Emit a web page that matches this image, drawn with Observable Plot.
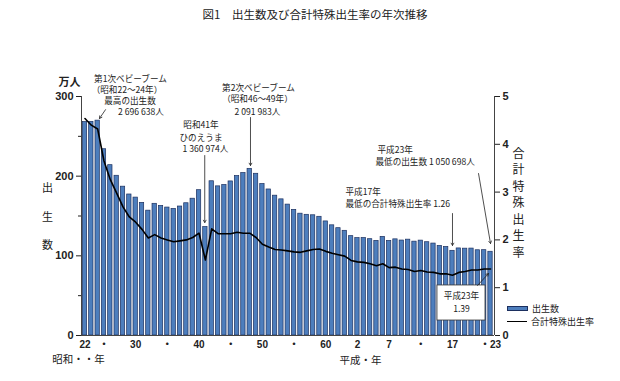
<!DOCTYPE html>
<html>
<head>
<meta charset="utf-8">
<script src="https://cdn.jsdelivr.net/npm/d3@7"></script>
<script src="https://cdn.jsdelivr.net/npm/@observablehq/plot@0.6"></script>
<style>
  body { margin: 0; background: #fff; }
  #wrap { position: relative; width: 620px; height: 381px; background: #fff; overflow: hidden; }
  #title { height: 28px; line-height: 28px; text-align: center; padding-left: 10px;
           font-family: "Noto Sans CJK JP", sans-serif; font-size: 11.5px; color: #222; }
  #legend { position: absolute; left: 507px; top: 302px; font-family: "Noto Sans CJK JP", sans-serif;
            font-size: 9px; color: #222; line-height: 13px; }
  #legend .row { display: flex; align-items: center; }
  #legend .bar { width: 19px; height: 3px; background: #4d7ebd; border: 0.8px solid #1c2f5e; margin-right: 4px; }
  #legend .line { width: 20px; height: 0; border-top: 1.6px solid #000; margin-right: 4px; }
</style>
</head>
<body>
<div id="wrap">
  <div id="title">図1　出生数及び合計特殊出生率の年次推移</div>
  <div id="chart"></div>
  <div id="legend">
    <div class="row"><span class="bar"></span><span>出生数</span></div>
    <div class="row"><span class="line"></span><span>合計特殊出生率</span></div>
  </div>
</div>
<script>
// ---- data ----
const years = d3.range(1947, 2012);
// 出生数 (万人)
const births = [267.9, 268.2, 269.7, 233.8, 213.8, 200.5, 186.8, 177.0, 173.1, 166.5,
                156.7, 165.3, 162.6, 160.6, 158.9, 161.9, 166.0, 171.7, 182.4, 136.1,
                193.6, 187.2, 188.9, 193.4, 200.1, 203.9, 209.2, 203.0, 190.1, 183.3,
                175.5, 170.9, 164.3, 157.7, 152.9, 151.5, 150.9, 149.0, 143.2, 138.3,
                134.7, 131.4, 124.7, 122.2, 122.3, 120.9, 118.8, 123.8, 118.7, 120.7,
                119.2, 120.3, 117.8, 119.1, 117.1, 115.4, 112.4, 111.1, 106.3, 109.3,
                109.0, 109.1, 107.0, 107.1, 105.1];
// 合計特殊出生率
const rates = [4.54, 4.40, 4.32, 3.65, 3.26, 2.98, 2.69, 2.48, 2.37, 2.22,
               2.04, 2.11, 2.04, 2.00, 1.96, 1.98, 2.00, 2.05, 2.14, 1.58,
               2.23, 2.13, 2.13, 2.13, 2.16, 2.14, 2.14, 2.05, 1.91, 1.85,
               1.80, 1.79, 1.77, 1.75, 1.74, 1.77, 1.80, 1.81, 1.76, 1.72,
               1.69, 1.66, 1.57, 1.54, 1.53, 1.50, 1.46, 1.50, 1.42, 1.43,
               1.39, 1.38, 1.34, 1.36, 1.33, 1.32, 1.29, 1.29, 1.26, 1.32,
               1.34, 1.37, 1.37, 1.39, 1.39];
const xTickYears  = [1947, 1950, 1955, 1960, 1965, 1970, 1975, 1980, 1985, 1990, 1995, 2000, 2005, 2011];
const xTickLabels = ["22", "・", "30", "・", "40", "・", "50", "・", "60", "2", "7", "・", "17", "・23"];
const leftTicks = [0, 100, 200, 300];
const leftMinorTicks = [50, 150, 250];
const rightTicks = [0, 1, 2, 3, 4, 5];

// ---- layout / annotations ----
const yMax = 300, rateMax = 5, k = yMax / rateMax;
const xDomain = [1946.45, 2011.63];
const rows = years.map((year, i) => ({year, births: births[i], rate: rates[i]}));

const notesMid = [
  {x: 1954.18, y: 322.0, text: "第1次ベビーブーム"},
  {x: 1953.63, y: 308.0, text: "（昭和22～24年）"},
  {x: 1954.10, y: 294.5, text: "最高の出生数"},
  {x: 1955.84, y: 280.5, text: "2 696 638人"},
  {x: 1974.38, y: 310.0, text: "第2次ベビーブーム"},
  {x: 1974.22, y: 296.2, text: "（昭和46～49年）"},
  {x: 1974.22, y: 279.9, text: "2 091 983人"},
  {x: 1965.31, y: 263.6, text: "昭和41年"},
  {x: 1965.31, y: 247.3, text: "ひのえうま"},
  {x: 1966.02, y: 233.5, text: "1 360 974人"},
  {x: 2006.42, y: 49.0, text: "平成23年"},
  {x: 2006.42, y: 32.6, text: "1.39"}
];
const notesStart = [
  {x: 1988.11, y: 179.5, text: "平成17年"},
  {x: 1988.11, y: 164.4, text: "最低の合計特殊出生率 1.26"},
  {x: 1993.16, y: 232.2, text: "平成23年"},
  {x: 1992.84, y: 217.2, text: "最低の出生数 1 050 698人"}
];
const arrows = [
  {x1: 1950.24, y1: 283.5, x2: 1949.29, y2: 272.4},
  {x1: 1973.12, y1: 273.6, x2: 1973.12, y2: 213.4},
  {x1: 1965.90, y1: 225.9, x2: 1965.90, y2: 141.8},
  {x1: 2005.00, y1: 153.1, x2: 2005.00, y2: 113.0},
  {x1: 2009.11, y1: 203.3, x2: 2011.00, y2: 115.5},
  {x1: 2008.95, y1: 62.8,  x2: 2010.69, y2: 77.8}
];
const box = [{x1: 2002.63, x2: 2010.21, y1: 18.8, y2: 62.8}];

const cjk = "'Noto Sans CJK JP', sans-serif";
const num = "'Liberation Sans', 'Noto Sans CJK JP', sans-serif";

const chart = Plot.plot({
  width: 620,
  height: 353,
  marginTop: 68,
  marginLeft: 81,
  marginRight: 126,
  marginBottom: 46,
  x: {type: "linear", domain: xDomain},
  y: {domain: [0, yMax]},
  style: {fontFamily: num, fontSize: "10px", color: "#222", background: "transparent", overflow: "visible"},
  marks: [
    Plot.rectY(rows, {x1: d => d.year - 0.5, x2: d => d.year + 0.5, y: "births",
      insetLeft: 1.0, insetRight: 1.0, fill: "#4d7ebd", stroke: "#1c2f5e", strokeWidth: 0.7}),
    Plot.lineY(rows, {x: "year", y: d => d.rate * k, stroke: "#000", strokeWidth: 1.6}),
    Plot.rect(box, {x1: "x1", x2: "x2", y1: "y1", y2: "y2", fill: "#fff", stroke: "#333", strokeWidth: 0.8}),
    Plot.arrow(arrows, {x1: "x1", y1: "y1", x2: "x2", y2: "y2", stroke: "#222", strokeWidth: 0.8, headLength: 5}),
    Plot.text(notesMid, {x: "x", y: "y", text: "text", textAnchor: "middle", fontFamily: cjk, fontSize: 8.6, fill: "#222"}),
    Plot.text(notesStart, {x: "x", y: "y", text: "text", textAnchor: "start", fontFamily: cjk, fontSize: 8.6, fill: "#222"}),
    // axis lines
    Plot.ruleX([xDomain[0]], {stroke: "#444", strokeWidth: 1}),
    Plot.ruleX([xDomain[1]], {stroke: "#444", strokeWidth: 1}),
    Plot.ruleY([0], {stroke: "#444", strokeWidth: 1}),
    // axes
    Plot.axisY({anchor: "left", ticks: leftTicks, tickSize: 5, tickPadding: 3, label: null,
      fontSize: 11, fontWeight: "bold"}),
    Plot.axisY({anchor: "left", ticks: leftMinorTicks, tickSize: 3, tickFormat: () => "", label: null}),
    Plot.axisY({anchor: "right", ticks: rightTicks.map(t => t * k), tickFormat: d => d / k,
      tickSize: 5, tickPadding: 3, label: null, fontSize: 11, fontWeight: "bold"}),
    Plot.axisX({ticks: xTickYears, tickFormat: d => xTickLabels[xTickYears.indexOf(d)],
      tickSize: 0, tickPadding: 5, label: null, fontSize: 10, fontWeight: "bold"}),
    // axis titles
    Plot.text(["万人"], {frameAnchor: "top-left", textAnchor: "middle", dx: -12, dy: -18, fontFamily: cjk, fontSize: 11, fontWeight: "bold"}),
    Plot.text(["出\n生\n数"], {frameAnchor: "left", textAnchor: "middle", dx: -34, dy: -4.5, lineHeight: 2.6, fontFamily: cjk, fontSize: 11}),
    Plot.text(["合\n計\n特\n殊\n出\n生\n率"], {frameAnchor: "right", textAnchor: "middle", dx: 24, dy: -14, lineHeight: 1.38, fontFamily: cjk, fontSize: 12}),
    Plot.text(["昭和・・年"], {frameAnchor: "bottom-left", textAnchor: "middle", dx: -3, dy: 27, fontFamily: cjk, fontSize: 10.5}),
    Plot.text(["平成・年"], {frameAnchor: "bottom-left", textAnchor: "middle", dx: 279, dy: 28, fontFamily: cjk, fontSize: 10.5})
  ]
});
document.getElementById("chart").appendChild(chart);
</script>
</body>
</html>
